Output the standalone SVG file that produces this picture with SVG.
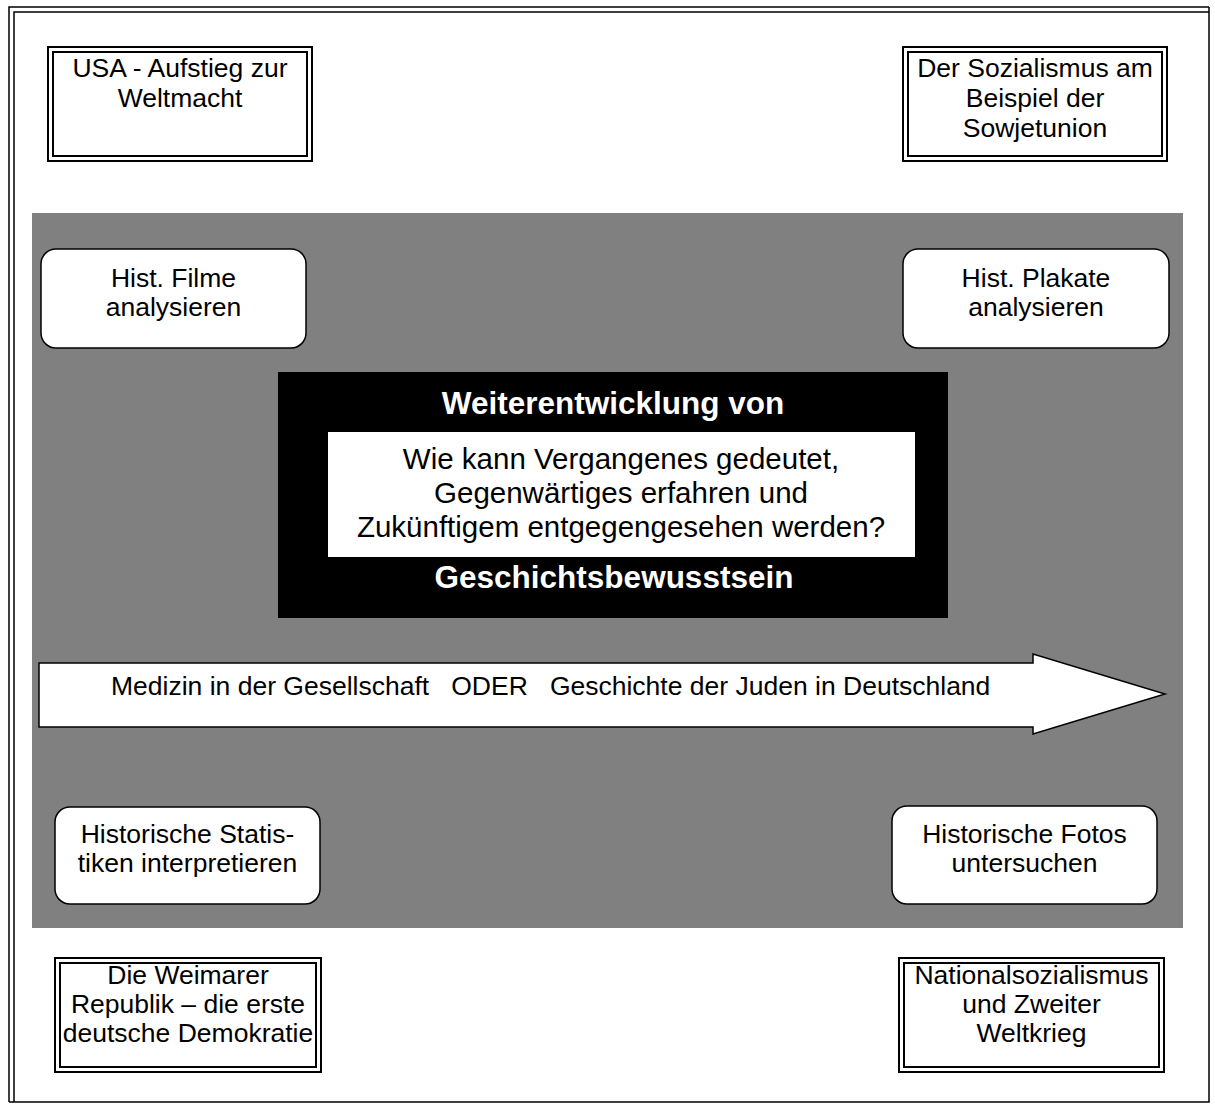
<svg xmlns="http://www.w3.org/2000/svg" width="1215" height="1113" viewBox="0 0 1215 1113">
<style>
  .frame{fill:none;stroke:#000;stroke-width:1.5}
  .dbl{fill:#fff;stroke:#000;stroke-width:2}
  .dbli{fill:none;stroke:#000;stroke-width:2}
  .rnd{fill:#fff;stroke:#000;stroke-width:1.5}
  .t{font-family:"Liberation Sans",Arial,sans-serif;font-size:26.5px;fill:#000;text-anchor:middle}
  .hb{font-family:"Liberation Sans",Arial,sans-serif;font-size:31.5px;font-weight:bold;fill:#fff;text-anchor:middle}
  .q{font-family:"Liberation Sans",Arial,sans-serif;font-size:29.5px;fill:#000;text-anchor:middle}
</style>
<rect width="1215" height="1113" fill="#fff"/>
<g id="frame">
  <path class="frame" d="M9,1102 V7 H1209"/>
  <path class="frame" d="M14,1102 V12 H1209"/>
  <path class="frame" d="M1209,7 V1102 H9"/>
</g>
<rect id="background" x="32" y="213" width="1151" height="715" fill="#808080"/>
<g id="usa">
  <rect class="dbl" x="48" y="47" width="264" height="114"/>
  <rect class="dbli" x="53" y="52" width="254" height="104"/>
  <text class="t" x="180" y="77">USA - Aufstieg zur</text>
  <text class="t" x="180" y="107">Weltmacht</text>
</g>
<g id="sozialismus">
  <rect class="dbl" x="903" y="47" width="264" height="114"/>
  <rect class="dbli" x="908" y="52" width="254" height="104"/>
  <text class="t" x="1035" y="77">Der Sozialismus am</text>
  <text class="t" x="1035" y="107">Beispiel der</text>
  <text class="t" x="1035" y="137">Sowjetunion</text>
</g>
<g id="weimar">
  <rect class="dbl" x="55" y="958" width="266" height="114"/>
  <rect class="dbli" x="60" y="963" width="256" height="104"/>
  <text class="t" x="188" y="984">Die Weimarer</text>
  <text class="t" x="188" y="1013">Republik – die erste</text>
  <text class="t" x="188" y="1042">deutsche Demokratie</text>
</g>
<g id="nationalsozialismus">
  <rect class="dbl" x="899" y="958" width="265" height="114"/>
  <rect class="dbli" x="904" y="963" width="255" height="104"/>
  <text class="t" x="1031.5" y="984">Nationalsozialismus</text>
  <text class="t" x="1031.5" y="1013">und Zweiter</text>
  <text class="t" x="1031.5" y="1042">Weltkrieg</text>
</g>
<g id="filme">
  <rect class="rnd" x="41" y="249" width="265" height="99" rx="15"/>
  <text class="t" x="173.5" y="287">Hist. Filme</text>
  <text class="t" x="173.5" y="316">analysieren</text>
</g>
<g id="plakate">
  <rect class="rnd" x="903" y="249" width="266" height="99" rx="15"/>
  <text class="t" x="1036" y="287">Hist. Plakate</text>
  <text class="t" x="1036" y="316">analysieren</text>
</g>
<g id="statistiken">
  <rect class="rnd" x="55" y="807" width="265" height="97" rx="15"/>
  <text class="t" x="187.5" y="843">Historische Statis-</text>
  <text class="t" x="187.5" y="872">tiken interpretieren</text>
</g>
<g id="fotos">
  <rect class="rnd" x="892" y="806" width="265" height="98" rx="15"/>
  <text class="t" x="1024.5" y="843">Historische Fotos</text>
  <text class="t" x="1024.5" y="872">untersuchen</text>
</g>
<g id="zentrum">
  <rect x="278" y="372" width="670" height="246" fill="#000"/>
  <rect x="328" y="432" width="587" height="125" fill="#fff"/>
  <text class="hb" x="613" y="414">Weiterentwicklung von</text>
  <text class="q" x="621" y="469">Wie kann Vergangenes gedeutet,</text>
  <text class="q" x="621" y="503">Gegenwärtiges erfahren und</text>
  <text class="q" x="621" y="537">Zukünftigem entgegengesehen werden?</text>
  <text class="hb" x="614" y="588">Geschichtsbewusstsein</text>
</g>
<g id="connectors">
  <polygon points="39,663 1033,663 1033,654 1165,694 1033,734 1033,727 39,727" fill="#fff" stroke="#000" stroke-width="1.5"/>
  <text class="t" x="111" y="695" style="text-anchor:start" xml:space="preserve">Medizin in der Gesellschaft   ODER   Geschichte der Juden in Deutschland</text>
</g>
</svg>
